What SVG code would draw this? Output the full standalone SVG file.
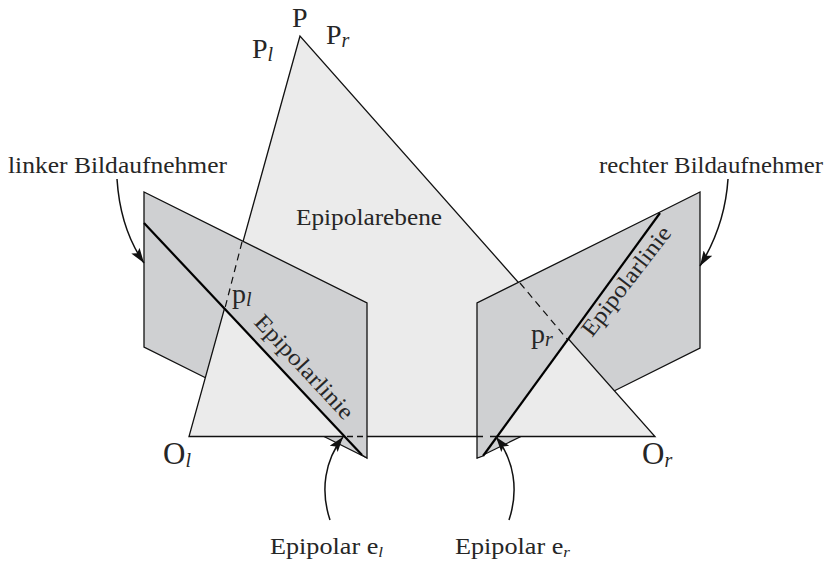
<svg xmlns="http://www.w3.org/2000/svg" width="830" height="563" viewBox="0 0 830 563">
<style>
text{font-family:"Liberation Serif",serif;fill:#262626}
.l{font-size:23px}
.m{font-size:28px}
.o{font-size:31px}
.s{font-size:20px;font-style:italic}
.ss{font-size:15px;font-style:italic}
.pl{fill:#cfd0d2;stroke:none}
.edge{fill:none;stroke:#111;stroke-width:1.3;stroke-linejoin:miter}
.thick{fill:none;stroke:#000;stroke-width:2.2}
.dash{fill:none;stroke:#111;stroke-width:1.2;stroke-dasharray:7 5}
.arr{fill:none;stroke:#111;stroke-width:1.5;marker-end:url(#a)}
</style>
<defs>
<marker id="a" markerUnits="userSpaceOnUse" markerWidth="16" markerHeight="12" refX="15" refY="5" orient="auto"><path d="M0 0L15 5L0 10L3 5Z" fill="#111"/></marker>
</defs>
<rect width="830" height="563" fill="#fff"/>
<g id="plane-left-back">
<polygon class="pl" points="144,192 367,303 367,458 144,347"/>
<polyline class="edge" points="144,223 144,347 210,380"/>
<polyline class="edge" points="323,436 367,458"/>
</g>
<g id="plane-right-back">
<polygon class="pl" points="477,303 700,192 700,348 477,458"/>
<polyline class="edge" points="660,212 700,192 700,348 612,392"/>
<polyline class="edge" points="477,458 522,436"/>
</g>
<g id="epipolar-plane">
<polygon points="300,36 189,436.5 655,436.5" fill="#ebebeb"/>
<polygon class="edge" points="300,36 189,436.5 655,436.5"/>
<text class="l" x="296" y="225" textLength="146" lengthAdjust="spacingAndGlyphs">Epipolarebene</text>
</g>
<g id="plane-left-front">
<polygon class="pl" points="144,192 367,303 367,458 362,455 144,223"/>
<polyline class="edge" points="144,223 144,192 367,303 367,458 362,455"/>
<text class="l" x="253" y="323" transform="rotate(47 253 323)" textLength="134" lengthAdjust="spacingAndGlyphs">Epipolarlinie</text>
<text x="232" y="303" class="m">p<tspan class="s" dy="3">l</tspan></text>
</g>
<g id="plane-right-front">
<polygon class="pl" points="477,303 660,212 483,456 477,458"/>
<polyline class="edge" points="660,212 477,303 477,458 483,456"/>
<text class="l" x="592" y="338" transform="rotate(-52.5 592 338)" textLength="132" lengthAdjust="spacingAndGlyphs">Epipolarlinie</text>
<text x="531" y="343" class="m">p<tspan class="s" dy="3">r</tspan></text>
</g>
<g id="connectors">
<path class="dash" d="M242 242L225 308"/>
<path class="dash" d="M520 283L567 339"/>
<path class="edge" d="M347 436.5H353M357 436.5H363"/>
<path class="edge" d="M477 436.5H483M490 436.5H498"/>
<path class="thick" d="M144 223L362 455"/>
<path class="thick" d="M660 213L483 456"/>
<path class="arr" d="M117 179C119 210 128 240 144 263"/>
<path class="arr" d="M728 179C726 210 716 240 700 266"/>
<path class="arr" d="M330 520C320 490 325 460 343 437"/>
<path class="arr" d="M509 520C519 490 514 460 496 437"/>
</g>
<g id="labels">
<text class="m" x="292" y="27">P</text>
<text class="m" x="252" y="58">P<tspan class="s" dy="3">l</tspan></text>
<text class="m" x="326" y="44">P<tspan class="s" dy="3">r</tspan></text>
<text class="o" x="163" y="464">O<tspan class="s" dy="3">l</tspan></text>
<text class="o" x="642" y="464">O<tspan class="s" dy="3">r</tspan></text>
<text class="l" x="8" y="173" textLength="219" lengthAdjust="spacingAndGlyphs">linker Bildaufnehmer</text>
<text class="l" x="599" y="173" textLength="224" lengthAdjust="spacingAndGlyphs">rechter Bildaufnehmer</text>
<text class="l" x="270" y="554" textLength="113" lengthAdjust="spacingAndGlyphs">Epipolar e<tspan class="ss" dy="3">l</tspan></text>
<text class="l" x="455" y="554" textLength="115" lengthAdjust="spacingAndGlyphs">Epipolar e<tspan class="ss" dy="3">r</tspan></text>
</g>
</svg>
